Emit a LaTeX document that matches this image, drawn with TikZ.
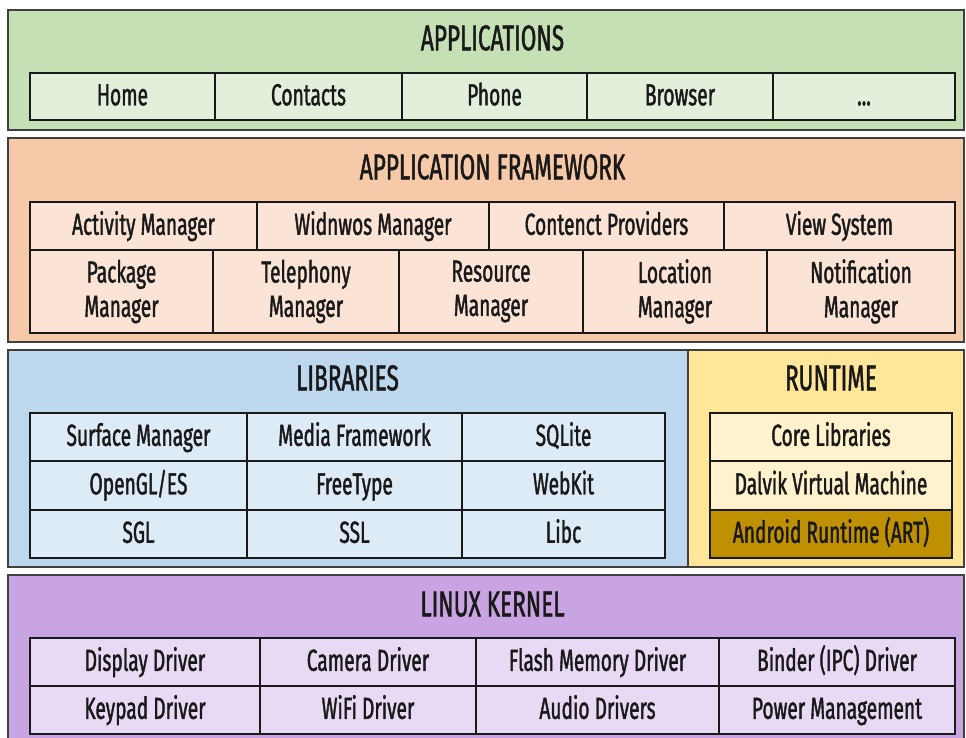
\documentclass[tikz,border=0pt]{standalone}
\usepackage{fontspec}
\setmainfont{Fira Sans}[FakeStretch=0.63, FakeBold=1.3]
\definecolor{appout}{HTML}{C5E0B4}
\definecolor{appin}{HTML}{E2EFDA}
\definecolor{fwout}{HTML}{F6C9A9}
\definecolor{fwin}{HTML}{FBE3D5}
\definecolor{libout}{HTML}{BDD7EE}
\definecolor{libin}{HTML}{DDEBF7}
\definecolor{rtout}{HTML}{FFE699}
\definecolor{rtin}{HTML}{FFF2CC}
\definecolor{artfill}{HTML}{BF9000}
\definecolor{kout}{HTML}{C8A5E2}
\definecolor{kin}{HTML}{E8DAF4}

\tikzset{
  layer/.style={draw=black!75, line width=1.1pt, inner sep=0},
  cell/.style={draw=black!90, line width=0.9pt, inner sep=0, align=center,
    text=black!90, font=\fontsize{17.3}{19.5}\selectfont},
  onecell/.style={cell, text height=12pt, text depth=2pt},
  title/.style={inner sep=0, text=black!90, text height=14pt, text depth=0pt,
    font=\fontsize{20.4}{24}\selectfont}
}

\begin{document}
\begin{tikzpicture}
\useasboundingbox (0,0) rectangle (19.32,-14.74);
\clip (0,0) rectangle (19.32,-14.74);
% layers
\node[layer, fill=appout, minimum width=19.12cm, minimum height=2.40cm] (applayer) at (9.72,-1.40) {};
\node[layer, fill=fwout, minimum width=19.12cm, minimum height=4.08cm] (fwlayer) at (9.72,-4.80) {};
\node[layer, fill=libout, minimum width=13.60cm, minimum height=4.34cm] (liblayer) at (6.96,-9.17) {};
\node[layer, fill=rtout, minimum width=5.52cm, minimum height=4.34cm] (rtlayer) at (16.52,-9.17) {};
\node[layer, fill=kout, minimum width=19.12cm, minimum height=3.70cm] (klayer) at (9.72,-13.35) {};
% titles
\node[title] (apptitle) at (9.85,-0.76) {APPLICATIONS};
\node[title] (fwtitle) at (9.85,-3.34) {APPLICATION FRAMEWORK};
\node[title] (libtitle) at (6.95,-7.56) {LIBRARIES};
\node[title] (rttitle) at (16.62,-7.56) {RUNTIME};
\node[title] (ktitle) at (9.85,-12.08) {LINUX KERNEL};
% applications
\foreach \l/\r/\n/\t in {0.60/4.30/home/Home, 4.30/8.04/contacts/Contacts,
    8.04/11.74/phone/Phone, 11.74/15.46/browser/Browser}
  \node[onecell, fill=appin, minimum width={(\r-\l)*1cm}, minimum height=0.94cm]
    (\n) at ({(\l+\r)/2},-1.93) {\t};
\node[onecell, fill=appin, minimum width=3.64cm, minimum height=0.94cm] (more) at (17.28,-1.93) {...};
% framework
\foreach \l/\r/\n/\t in {0.60/5.14/activity/Activity Manager,
    5.14/9.78/windows/Widnwos Manager, 9.78/14.48/content/Contenct Providers,
    14.48/19.10/view/View System}
  \node[onecell, fill=fwin, minimum width={(\r-\l)*1cm}, minimum height=0.96cm]
    (\n) at ({(\l+\r)/2},-4.52) {\t};
\foreach \l/\r/\n/\t in {0.60/4.26/package/Package\\Manager,
    4.26/7.98/telephony/Telephony\\Manager, 7.98/11.66/resource/Resource\\Manager,
    11.66/15.34/location/Location\\Manager, 15.34/19.10/notification/Notification\\Manager}
  \node[cell, fill=fwin, minimum width={(\r-\l)*1cm}, minimum height=1.66cm]
    (\n) at ({(\l+\r)/2},-5.83) {\t};
% libraries
\foreach \y/\a/\b/\c [count=\i] in {-8.74/Surface Manager/Media Framework/SQLite,
    -9.71/{OpenGL/ES}/FreeType/WebKit, -10.68/SGL/SSL/Libc}
{
  \node[onecell, fill=libin, minimum width=4.34cm, minimum height=0.97cm] (liba\i) at (2.77,\y) {\a};
  \node[onecell, fill=libin, minimum width=4.30cm, minimum height=0.97cm] (libb\i) at (7.09,\y) {\b};
  \node[onecell, fill=libin, minimum width=4.06cm, minimum height=0.97cm] (libc\i) at (11.27,\y) {\c};
}
% runtime
\node[onecell, fill=rtin, minimum width=4.84cm, minimum height=0.96cm] (core) at (16.62,-8.74) {Core Libraries};
\node[onecell, fill=rtin, minimum width=4.84cm, minimum height=0.98cm] (dalvik) at (16.62,-9.71) {Dalvik Virtual Machine};
\node[onecell, fill=artfill, minimum width=4.84cm, minimum height=0.96cm] (art) at (16.62,-10.68) {Android Runtime (ART)};
% kernel
\foreach \y/\a/\b/\c/\d [count=\i] in {-13.24/Display Driver/Camera Driver/Flash Memory Driver/Binder (IPC) Driver,
    -14.20/Keypad Driver/WiFi Driver/Audio Drivers/Power Management}
{
  \node[onecell, fill=kin, minimum width=4.60cm, minimum height=0.96cm] (ka\i) at (2.90,\y) {\a};
  \node[onecell, fill=kin, minimum width=4.32cm, minimum height=0.96cm] (kb\i) at (7.36,\y) {\b};
  \node[onecell, fill=kin, minimum width=4.86cm, minimum height=0.96cm] (kc\i) at (11.95,\y) {\c};
  \node[onecell, fill=kin, minimum width=4.72cm, minimum height=0.96cm] (kd\i) at (16.74,\y) {\d};
}
\end{tikzpicture}
\end{document}
